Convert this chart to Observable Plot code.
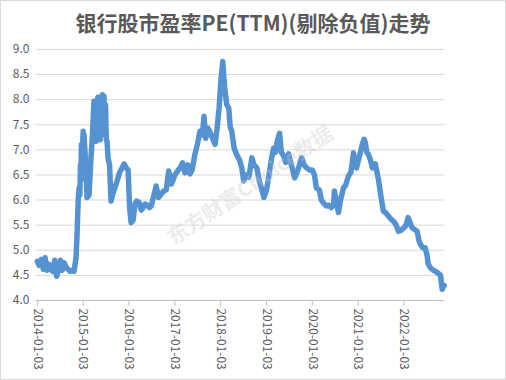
<!DOCTYPE html>
<html><head><meta charset="utf-8">
<script src="https://cdn.jsdelivr.net/npm/d3@7"></script>
<script src="https://cdn.jsdelivr.net/npm/@observablehq/plot@0.6"></script>
<style>
body{margin:0;background:#fff;}
#wrap{width:506px;height:380px;box-sizing:border-box;border:1px solid #d9d9d9;position:relative;overflow:hidden;background:#fff;}
#title{height:34px;line-height:42px;text-align:center;font-family:"Noto Sans CJK SC";font-weight:bold;font-size:21px;color:#595959;}
#chart svg{display:block;}
</style></head><body>
<div id="wrap"><div id="title">银行股市盈率PE(TTM)(剔除负值)走势</div><div id="chart"></div></div>
<script>
const dates = [
"2014-01-03","2014-01-17","2014-02-04","2014-02-20","2014-03-06","2014-03-20","2014-04-05","2014-04-20","2014-05-06","2014-05-22",
"2014-06-06","2014-06-20","2014-07-06","2014-07-20","2014-08-05","2014-08-20","2014-09-05","2014-09-20","2014-10-06","2014-10-22",
"2014-11-07","2014-11-15","2014-11-25","2014-12-03","2014-12-08","2014-12-12","2014-12-16","2014-12-20","2014-12-26","2015-01-03",
"2015-01-07","2015-01-10","2015-01-19","2015-02-03","2015-02-19","2015-03-06","2015-03-18","2015-03-30","2015-04-03","2015-04-08",
"2015-04-12","2015-04-15","2015-04-20","2015-04-24","2015-04-28","2015-05-01","2015-05-06","2015-05-12","2015-05-18","2015-05-25",
"2015-06-01","2015-06-05","2015-06-10","2015-06-18","2015-06-24","2015-06-30","2015-07-06","2015-07-12","2015-07-20","2015-08-01",
"2015-08-13","2015-08-25","2015-09-06","2015-09-20","2015-10-08","2015-10-20","2015-11-01","2015-11-25","2015-12-10","2015-12-27",
"2016-01-08","2016-01-20","2016-02-05","2016-02-20","2016-03-05","2016-03-24","2016-04-10","2016-04-25","2016-05-10","2016-05-27",
"2016-06-15","2016-06-28","2016-07-15","2016-08-07","2016-08-25","2016-09-16","2016-10-05","2016-10-26","2016-11-15","2016-12-05",
"2016-12-20","2017-01-03","2017-02-12","2017-03-05","2017-03-24","2017-04-15","2017-05-03","2017-05-20","2017-06-12","2017-07-01",
"2017-07-22","2017-08-10","2017-08-23","2017-09-05","2017-09-24","2017-10-10","2017-10-26","2017-11-19","2017-12-05","2017-12-21",
"2018-01-05","2018-01-19","2018-01-26","2018-02-04","2018-02-20","2018-03-08","2018-03-20","2018-04-01","2018-04-20","2018-05-11",
"2018-06-01","2018-06-20","2018-07-05","2018-07-20","2018-08-15","2018-09-08","2018-09-25","2018-10-18","2018-11-05","2018-11-27",
"2018-12-13","2019-01-03","2019-01-19","2019-02-10","2019-02-28","2019-03-15","2019-04-01","2019-04-17","2019-05-01","2019-05-19",
"2019-06-05","2019-06-28","2019-07-20","2019-08-15","2019-09-10","2019-10-10","2019-10-30","2019-11-19","2019-12-10","2020-01-03",
"2020-01-20","2020-02-04","2020-02-28","2020-03-15","2020-04-08","2020-04-25","2020-05-10","2020-06-03","2020-06-20","2020-06-27",
"2020-07-10","2020-07-29","2020-08-15","2020-09-07","2020-09-25","2020-10-17","2020-11-05","2020-11-26","2020-12-10","2020-12-20",
"2021-01-03","2021-01-20","2021-02-04","2021-02-18","2021-02-28","2021-03-12","2021-03-24","2021-04-10","2021-04-25","2021-05-19",
"2021-06-12","2021-07-01","2021-07-22","2021-08-10","2021-08-31","2021-09-20","2021-10-10","2021-11-01","2021-11-19","2021-12-10",
"2022-01-03","2022-01-20","2022-02-04","2022-02-20","2022-03-08","2022-03-25","2022-04-17","2022-05-01","2022-05-11","2022-06-01",
"2022-06-20","2022-07-05","2022-07-14","2022-08-01","2022-08-23","2022-09-10","2022-10-02","2022-10-20","2022-11-03","2022-11-19"
];
const pe = [
4.78,4.70,4.82,4.62,4.85,4.60,4.72,4.62,4.58,4.80,
4.48,4.62,4.80,4.60,4.75,4.66,4.62,4.58,4.60,4.58,
4.85,5.30,6.05,6.25,6.10,6.70,6.40,7.10,6.90,7.37,
6.95,7.30,6.90,6.05,6.10,6.84,7.30,7.97,7.50,7.90,
7.20,7.17,7.60,8.00,7.40,8.05,7.30,7.90,7.20,8.00,
7.30,8.10,7.60,8.07,7.40,7.90,7.20,7.17,6.84,6.70,
5.98,6.10,6.20,6.30,6.44,6.55,6.60,6.72,6.65,6.60,
5.85,5.55,5.60,5.92,5.98,5.95,5.80,5.85,5.92,5.90,
5.85,5.88,6.05,6.28,6.05,6.12,6.18,6.20,6.58,6.32,
6.40,6.50,6.64,6.74,6.54,6.70,6.52,6.60,6.92,7.11,
7.37,7.30,7.67,7.23,7.43,7.35,7.25,7.11,7.43,7.83,
8.40,8.76,8.50,8.23,7.90,7.83,7.45,7.37,7.03,6.90,
6.80,6.64,6.38,6.50,6.45,6.84,6.70,6.64,6.40,6.20,
6.05,6.20,6.44,6.80,7.03,6.95,7.20,7.33,6.95,6.88,
6.75,6.92,6.70,6.44,6.60,6.84,6.70,6.64,6.60,6.60,
6.50,6.24,6.20,6.00,5.92,5.88,5.90,5.85,5.90,6.18,
6.00,5.75,6.00,6.24,6.30,6.48,6.55,6.94,6.70,6.64,
6.78,6.95,7.11,7.21,7.15,6.95,6.91,6.80,6.64,6.72,
6.42,6.10,5.78,5.75,5.68,5.62,5.58,5.50,5.38,5.40,
5.45,5.50,5.65,5.55,5.45,5.42,5.38,5.20,5.13,5.05,
5.05,4.90,4.73,4.65,4.60,4.58,4.54,4.50,4.22,4.30
];
const xTicks = ["2014-01-03","2015-01-03","2016-01-03","2017-01-03","2018-01-03","2019-01-03","2020-01-03","2021-01-03","2022-01-03"];
const yTicks = [4.0,4.5,5.0,5.5,6.0,6.5,7.0,7.5,8.0,8.5,9.0];
const watermark = ["东方财富Choice数据"];

const data = dates.map((d, i) => ({date: new Date(d), pe: pe[i]}));

const chart = Plot.plot({
  width: 506, height: 346,
  marginTop: 14, marginBottom: 80, marginLeft: 35, marginRight: 61,
  style: {fontFamily: "'Noto Sans CJK SC', sans-serif", fontSize: "12px", color: "#595959", background: "white", overflow: "visible"},
  x: {type: "utc", domain: [new Date("2013-12-26"), new Date("2022-11-23")]},
  y: {domain: [4, 9]},
  marks: [
    Plot.gridY(yTicks, {stroke: "#d9d9d9", strokeOpacity: 1}),
    Plot.axisY(yTicks, {tickSize: 0, tickPadding: 7, tickFormat: d3.format(".1f"), label: null, fill: "#595959", fontSize: 12}),
    Plot.axisX(xTicks.map(d => new Date(d)), {tickRotate: 90, tickFormat: d3.utcFormat("%Y-%m-%d"), tickSize: 6, tickPadding: 2, stroke: "#bfbfbf", fill: "#595959", label: null, fontSize: 12}),
    Plot.ruleY([4], {stroke: "#bfbfbf"}),
    Plot.line(data, {x: "date", y: "pe", stroke: "#5592d2", strokeWidth: 5.5, strokeLinejoin: "round", strokeLinecap: "round"}),
    Plot.text(watermark, {frameAnchor: "middle", dx: 10, dy: 11, rotate: -34, fontSize: 21, fill: "#c8c8c8", fillOpacity: 0.35, fontWeight: "bold"})
  ]
});
document.getElementById("chart").appendChild(chart);
</script>
</body></html>
